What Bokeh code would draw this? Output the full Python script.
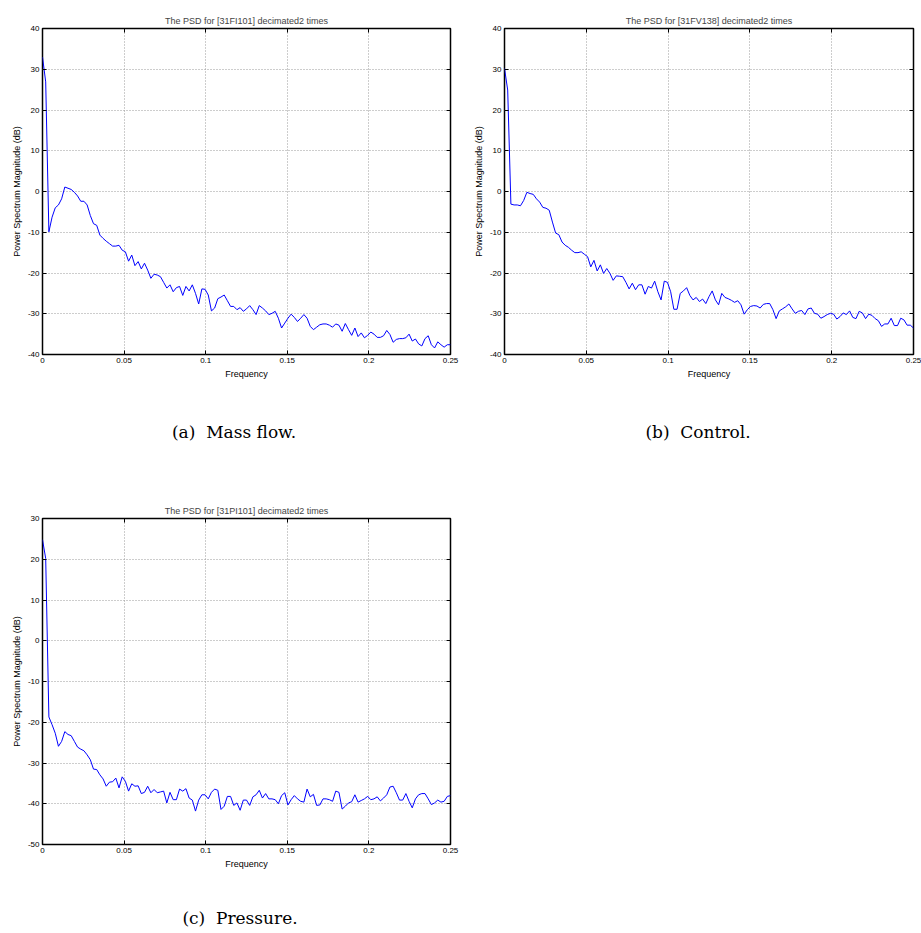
from bokeh.plotting import figure
from bokeh.models import LinearAxis, FixedTicker, Div, CustomJSTickFormatter, Range1d
from bokeh.layouts import column, row
from bokeh.embed import file_html
from bokeh.resources import INLINE
import numpy as np

# ---------------- data ----------------
n_points = 129
freq = np.linspace(0.0, 0.25, n_points)

mass_flow_db = [33.0, 26.9, -9.9, -6.3, -4.0, -3.3, -1.8, 1.1, 0.8, 0.5,
 -0.2, -1.1, -2.4, -2.4, -3.3, -5.9, -7.9, -8.3, -10.7, -11.5,
 -12.2, -12.8, -13.4, -13.4, -13.2, -14.4, -14.8, -17.1, -15.6, -18.2,
 -17.2, -19.0, -17.6, -19.3, -21.3, -20.3, -20.5, -20.9, -22.3, -23.7,
 -22.9, -24.6, -23.6, -23.3, -25.5, -23.3, -24.4, -22.9, -25.0, -27.6,
 -23.9, -24.0, -25.4, -29.3, -28.6, -26.3, -25.9, -25.4, -26.8, -28.2,
 -28.2, -29.0, -28.5, -29.4, -28.8, -28.0, -29.0, -30.2, -28.0, -28.6,
 -29.3, -30.2, -29.9, -29.4, -31.1, -33.5, -32.3, -31.1, -30.1, -30.9,
 -31.9, -31.1, -30.2, -31.1, -33.1, -33.9, -33.3, -32.7, -32.5, -32.5,
 -32.8, -33.3, -32.5, -32.8, -34.3, -32.4, -33.9, -35.3, -33.5, -35.6,
 -34.7, -35.9, -35.3, -34.5, -35.0, -35.8, -35.8, -35.4, -34.1, -35.1,
 -37.0, -36.3, -36.1, -36.1, -35.9, -35.0, -36.7, -36.2, -37.4, -37.9,
 -36.1, -35.4, -37.6, -38.4, -36.9, -37.6, -38.2, -37.6, -37.6]

control_db = [30.2, 24.9, -3.1, -3.3, -3.3, -3.5, -2.2, -0.2, -0.5, -0.7,
 -1.8, -2.6, -3.9, -4.1, -4.6, -7.5, -10.2, -10.6, -12.4, -13.2,
 -13.7, -14.4, -15.0, -15.0, -14.8, -15.4, -16.0, -18.5, -16.9, -19.5,
 -18.0, -20.1, -18.9, -20.1, -21.8, -20.7, -20.8, -20.9, -22.3, -23.9,
 -22.5, -24.1, -22.9, -22.9, -25.2, -23.3, -23.7, -22.0, -24.6, -26.6,
 -22.0, -22.3, -24.6, -28.9, -28.9, -25.0, -24.4, -23.6, -25.5, -26.6,
 -26.0, -27.0, -26.4, -27.5, -25.8, -24.4, -26.6, -27.8, -25.0, -26.0,
 -26.3, -26.7, -27.2, -26.8, -27.8, -30.1, -29.0, -28.2, -28.0, -28.1,
 -28.6, -27.7, -27.5, -27.5, -29.0, -31.2, -29.3, -28.8, -28.3, -27.6,
 -28.8, -29.9, -29.4, -29.2, -30.2, -28.8, -28.6, -29.9, -30.1, -31.1,
 -30.7, -30.2, -29.9, -30.1, -31.3, -30.7, -29.8, -30.2, -29.3, -30.9,
 -31.2, -29.4, -29.8, -31.2, -30.1, -30.4, -31.2, -31.7, -33.1, -32.5,
 -32.5, -31.1, -32.9, -32.9, -31.1, -31.5, -32.8, -32.8, -33.5]

pressure_db = [24.8, 20.2, -18.7, -20.6, -22.7, -25.9, -24.7, -22.3, -23.0, -23.3,
 -24.7, -26.1, -26.6, -27.0, -28.0, -29.2, -31.5, -31.6, -32.9, -33.9,
 -35.7, -34.7, -34.6, -33.7, -36.1, -33.4, -34.5, -36.9, -35.1, -35.7,
 -35.6, -37.5, -37.2, -35.7, -37.3, -36.5, -37.3, -37.1, -36.9, -39.8,
 -37.2, -39.0, -39.0, -36.4, -36.9, -36.3, -38.6, -39.1, -41.8, -39.1,
 -37.8, -37.8, -38.8, -37.2, -36.4, -36.7, -41.4, -40.6, -38.2, -38.2,
 -40.4, -39.8, -41.6, -39.1, -39.1, -40.4, -38.3, -37.8, -36.7, -38.6,
 -37.5, -38.8, -38.8, -39.0, -40.0, -38.0, -37.3, -40.3, -39.0, -38.0,
 -38.8, -39.4, -39.6, -36.4, -38.3, -37.7, -40.4, -40.3, -38.8, -38.8,
 -39.0, -39.4, -36.9, -37.2, -41.3, -40.6, -39.8, -39.5, -37.8, -39.6,
 -39.2, -38.8, -38.2, -39.0, -38.8, -38.3, -39.3, -38.6, -37.8, -35.9,
 -35.7, -37.3, -39.1, -39.1, -37.5, -39.4, -41.0, -38.8, -37.8, -37.5,
 -37.5, -38.8, -40.2, -39.8, -39.1, -39.6, -39.4, -38.2, -38.0]

x_ticks = [0, 0.05, 0.1, 0.15, 0.2, 0.25]
x_tick_labels = ["0", "0.05", "0.1", "0.15", "0.2", "0.25"]

y_ticks_ab = [-40, -30, -20, -10, 0, 10, 20, 30, 40]
y_tick_labels_ab = ["-40", "-30", "-20", "-10", "0", "10", "20", "30", "40"]
y_ticks_c = [-50, -40, -30, -20, -10, 0, 10, 20, 30]
y_tick_labels_c = ["-50", "-40", "-30", "-20", "-10", "0", "10", "20", "30"]

title_a = "The PSD for [31FI101] decimated2 times"
title_b = "The PSD for [31FV138] decimated2 times"
title_c = "The PSD for [31PI101] decimated2 times"
caption_a = "(a)&nbsp; Mass flow."
caption_b = "(b)&nbsp; Control."
caption_c = "(c)&nbsp; Pressure."

SANS = "Liberation Sans"


def make_fig(title, yvals, yticks, ylabels, width, height, b_left, b_right, b_top):
    p = figure(width=width, height=height,
               x_range=Range1d(0, 0.25),
               y_range=Range1d(yticks[0], yticks[-1]),
               output_backend="svg", toolbar_location=None,
               min_border_left=b_left, min_border_right=b_right,
               min_border_top=b_top, min_border_bottom=28,
               x_axis_label="Frequency",
               y_axis_label="Power Spectrum Magnitude (dB)")
    p.title.text = title
    p.title.text_font = SANS
    p.title.text_font_size = "9px"
    p.title.text_font_style = "normal"
    p.title.align = "center"
    p.title.standoff = 5
    p.title.offset = 0

    p.outline_line_color = "black"
    p.outline_line_width = 1.5
    p.outline_line_alpha = 1.0

    p.xaxis.ticker = FixedTicker(ticks=x_ticks)
    p.xaxis.major_label_overrides = dict(zip(x_ticks, x_tick_labels))
    p.yaxis.ticker = FixedTicker(ticks=yticks)
    p.yaxis.major_label_overrides = dict(zip(yticks, ylabels))

    for ax in (p.xaxis[0], p.yaxis[0]):
        ax.axis_line_color = None
        ax.major_tick_in = 4
        ax.major_tick_out = 0
        ax.minor_tick_in = 0
        ax.minor_tick_out = 0
        ax.major_tick_line_color = "black"
        ax.major_label_text_font = SANS
        ax.major_label_text_font_size = "8px"
        ax.major_label_text_color = "black"
        ax.major_label_standoff = 3
        ax.axis_label_text_font = SANS
        ax.axis_label_text_font_size = "9px"
        ax.axis_label_text_font_style = "normal"
        ax.axis_label_text_color = "black"
        ax.axis_label_standoff = 3

    blank = CustomJSTickFormatter(code="return ''")
    top = LinearAxis(ticker=FixedTicker(ticks=x_ticks), formatter=blank)
    right = LinearAxis(ticker=FixedTicker(ticks=yticks), formatter=blank)
    for ax in (top, right):
        ax.axis_line_color = None
        ax.major_tick_in = 4
        ax.major_tick_out = 0
        ax.minor_tick_in = 0
        ax.minor_tick_out = 0
        ax.major_tick_line_color = "black"
        ax.major_label_text_font_size = "0px"
        ax.major_label_standoff = 0
    p.add_layout(top, "above")
    p.add_layout(right, "right")

    p.xgrid.ticker = FixedTicker(ticks=x_ticks)
    p.ygrid.ticker = FixedTicker(ticks=yticks)
    for g in (p.xgrid[0], p.ygrid[0]):
        g.grid_line_color = "#9a9a9a"
        g.grid_line_dash = "1 2"
        g.grid_line_width = 1
        g.grid_line_alpha = 1.0

    p.line(freq, yvals, line_color="#0000ff", line_width=1)
    return p


fa = make_fig(title_a, mass_flow_db, y_ticks_ab, y_tick_labels_ab, 470, 382, 42, 20, 28)
fb = make_fig(title_b, control_db, y_ticks_ab, y_tick_labels_ab, 451, 382, 34, 8, 28)
fc = make_fig(title_c, pressure_db, y_ticks_c, y_tick_labels_c, 470, 374, 42, 20, 20)

CAP_STYLE = ("position:absolute;transform:translate(-50%,-50%);white-space:nowrap;"
             "font-family:'DejaVu Serif';font-size:17px;color:black;")

cap_ab = Div(width=921, height=116, margin=0, text=(
    "<div style='position:relative;width:921px;height:116px;'>"
    f"<span style=\"{CAP_STYLE}left:234px;top:50px;\">{caption_a}</span>"
    f"<span style=\"{CAP_STYLE}left:698px;top:50px;\">{caption_b}</span>"
    "</div>"))

cap_c = Div(width=921, height=60, margin=0, text=(
    "<div style='position:relative;width:921px;height:60px;'>"
    f"<span style=\"{CAP_STYLE}left:240px;top:46px;\">{caption_c}</span>"
    "</div>"))

layout = column(row(fa, fb), cap_ab, fc, cap_c)

open("out.html", "w").write(file_html(layout, INLINE))
